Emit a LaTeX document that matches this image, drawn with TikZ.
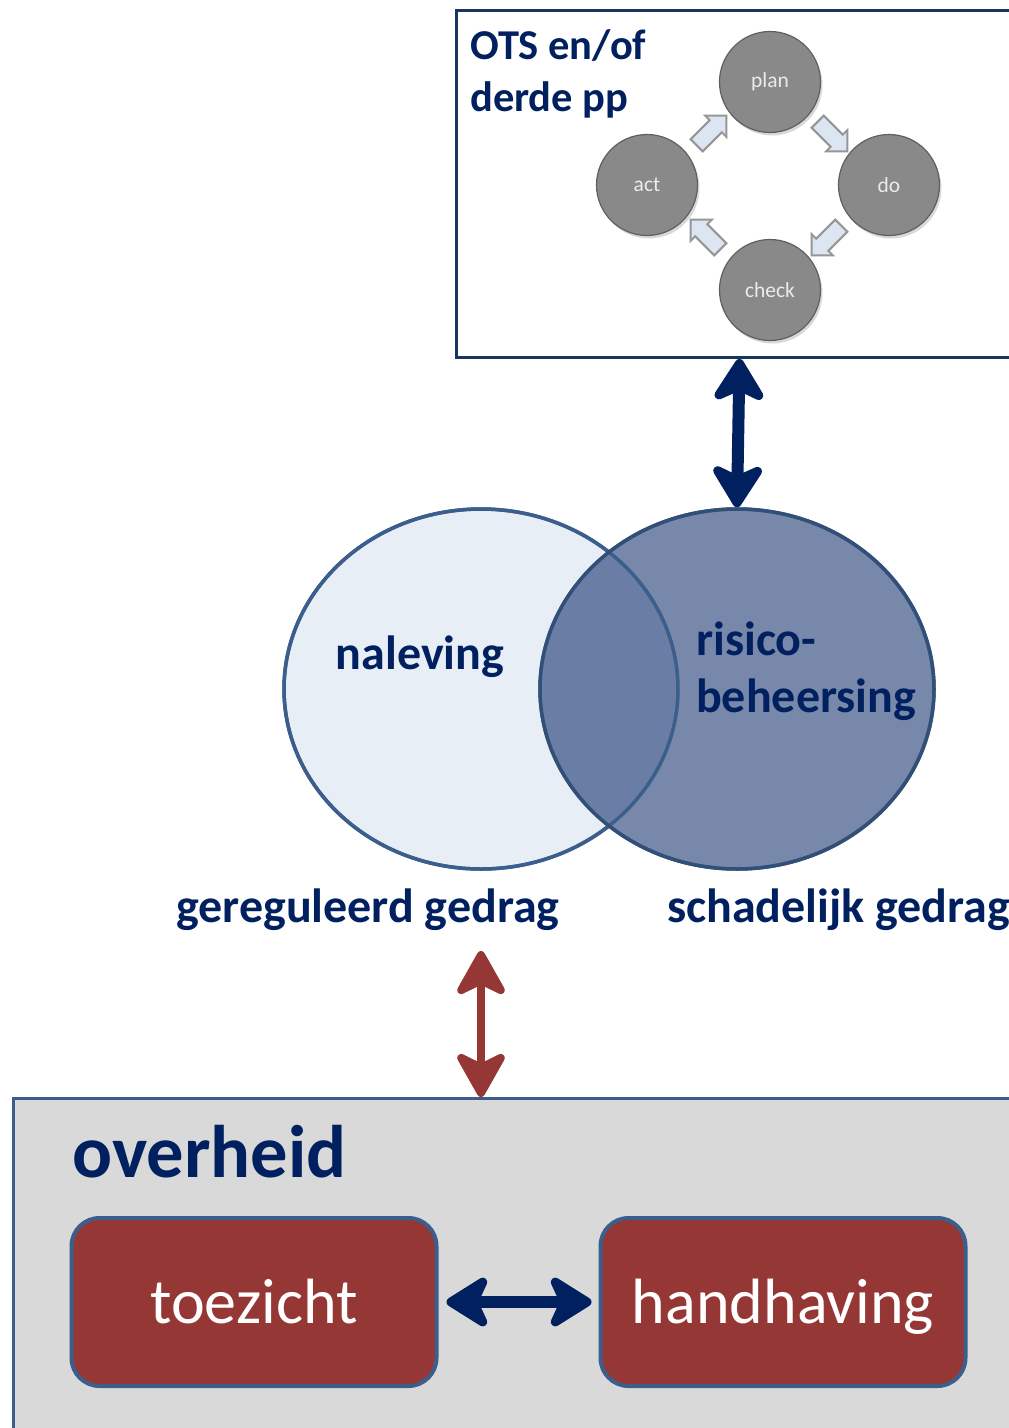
\documentclass[tikz,border=0pt]{standalone}
\usepackage{fontspec}
\setmainfont{Carlito}
\usetikzlibrary{positioning,calc,shapes.geometric,shapes.arrows,arrows.meta,shadows}

\definecolor{navy}{RGB}{0,32,96}
\definecolor{kaderblauw}{RGB}{23,55,94}
\definecolor{rand}{RGB}{59,94,140}
\definecolor{rood}{RGB}{149,55,53}
\definecolor{grijs}{RGB}{217,217,217}
\definecolor{licht}{RGB}{232,238,246}
\definecolor{donker}{RGB}{120,136,171}
\definecolor{overlap}{RGB}{106,125,165}
\definecolor{pdcagrijs}{RGB}{137,137,137}
\definecolor{pdcarand}{RGB}{95,95,95}
\definecolor{pijlvul}{RGB}{220,230,242}
\definecolor{pijlrand}{RGB}{150,150,150}

\tikzset{
  pdca/.style={circle, minimum size=101pt, fill=pdcagrijs, draw=pdcarand, line width=1.2pt,
    text=white!92!black, font=\fontsize{21.5}{25}\selectfont,
    drop shadow={opacity=0.3, shadow xshift=2pt, shadow yshift=-3pt}},
  pdcapijl/.style={single arrow, minimum height=42pt, minimum width=30pt, inner sep=7pt,
    single arrow head extend=6pt, fill=pijlvul, draw=pijlrand, line width=2pt},
  ellips/.style={ellipse, minimum width=394pt, minimum height=360pt, draw=rand, line width=3.5pt},
  tekst/.style={inner sep=0pt, text=navy, font=\fontsize{48}{57}\selectfont\bfseries},
  taak/.style={rectangle, rounded corners=28pt, minimum width=365pt, minimum height=168pt,
    fill=rood, draw=rand, line width=4pt, text=white, text height=44pt, text depth=2pt,
    font=\fontsize{64}{70}\selectfont},
  blauwpijl/.style={draw=navy, line width=12pt, arrows={Stealth[length=50pt, width=62pt, inset=14pt, round]-Stealth[length=50pt, width=62pt, inset=14pt, round]}},
  roodpijl/.style={draw=rood, line width=8pt, arrows={Stealth[length=52pt, width=58pt, inset=14pt, round]-Stealth[length=52pt, width=58pt, inset=14pt, round]}}
}

\begin{document}
\begin{tikzpicture}[x=1pt, y=-1pt]
\useasboundingbox (0,0) rectangle (1009,1428);
\clip (0,0) rectangle (1009,1428);

\node[draw=kaderblauw, line width=3pt, fill=white, minimum width=566pt, minimum height=347pt, anchor=north west] (ots) at (455,9) {};
\node[tekst, font=\fontsize{42.5}{52}\selectfont\bfseries, align=left, anchor=north west] (otstekst) at (470,29) {OTS en/of\\derde pp};

\node[pdca] (plan) at (770,82) {plan};
\node[pdca] (do) at (889,185) {do};
\node[pdca] (check) at (770,290) {check};
\node[pdca] (act) at (647,185) {act};

\node[pdcapijl, rotate=-45] (plando) at ($(plan)!0.5!(do)$) {};
\node[pdcapijl, rotate=-135] (docheck) at ($(do)!0.5!(check)$) {};
\node[pdcapijl, rotate=135] (checkact) at ($(check)!0.5!(act)$) {};
\node[pdcapijl, rotate=45] (actplan) at ($(act)!0.5!(plan)$) {};

\node[ellips, fill=licht] (naleving) at (481,689) {};
\node[ellips, fill=donker] (risico) at (737,689) {};
\begin{scope}
\clip (481,689) ellipse [x radius=197, y radius=180];
\fill[overlap] (737,689) ellipse [x radius=197, y radius=180];
\end{scope}
\draw[rand, line width=3.5pt] (481,689) ellipse [x radius=197, y radius=180];
\draw[rand!85!black, line width=3.5pt] (737,689) ellipse [x radius=197, y radius=180];

\node[tekst, anchor=base] (naltekst) at (420,669) {naleving};
\node[tekst, align=left, anchor=north west] (risicotekst) at (696,622) {risico-\\beheersing};
\node[tekst, anchor=base] (gereguleerd) at (368,922) {gereguleerd gedrag};
\node[tekst, anchor=base west] (schadelijk) at (667,922) {schadelijk gedrag};

\draw[blauwpijl] (ots.south) -- (risico.north);

\node[fill=grijs, draw=rand, line width=3pt, minimum width=1010pt, minimum height=345pt, anchor=north west] (overheid) at (12,1097) {};
\node[tekst, font=\fontsize{74.5}{80}\selectfont\bfseries, anchor=base west] (overheidtekst) at (72,1177) {overheid};

\coordinate (roodtop) at (481,951);
\draw[roodpijl] (roodtop) -- (roodtop |- overheid.north);

\node[taak] (toezicht) at (254,1302) {toezicht};
\node[taak] (handhaving) at (783,1302) {handhaving};
\draw[blauwpijl, shorten <=8pt, shorten >=7pt] (toezicht) -- (handhaving);
\end{tikzpicture}
\end{document}
